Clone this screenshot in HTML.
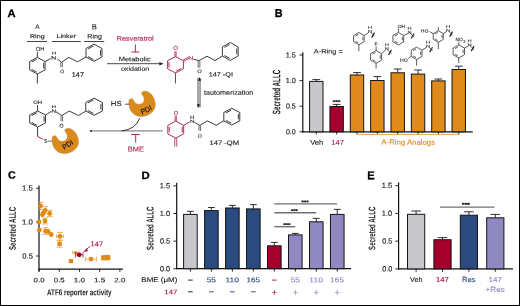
<!DOCTYPE html><html><head><meta charset="utf-8"><style>html,body{margin:0;padding:0;background:#fff;overflow:hidden;}svg{display:block;will-change:transform;}text{font-family:"Liberation Sans", sans-serif;}</style></head><body>
<svg width="520" height="306" viewBox="0 0 520 306">
<rect x="0" y="0" width="520" height="306" fill="#fff"/>
<rect x="0.5" y="0.5" width="519" height="305" fill="none" stroke="#000" stroke-width="1"/>
<text x="7.62" y="17.1" font-size="11.01" fill="#000" font-weight="bold" stroke="#000" stroke-width="0.3" textLength="8.08" lengthAdjust="spacingAndGlyphs" transform="rotate(0.06 7.62 17.1)">A</text>
<text x="274.8" y="17.1" font-size="11.59" fill="#000" font-weight="bold" stroke="#000" stroke-width="0.3" textLength="7.81" lengthAdjust="spacingAndGlyphs" transform="rotate(0.06 274.8 17.1)">B</text>
<text x="8.07" y="178.59" font-size="10.56" fill="#000" font-weight="bold" stroke="#000" stroke-width="0.3" textLength="7.72" lengthAdjust="spacingAndGlyphs" transform="rotate(0.06 8.07 178.59)">C</text>
<text x="141.56" y="179.1" font-size="10.58" fill="#000" font-weight="bold" stroke="#000" stroke-width="0.3" textLength="8.22" lengthAdjust="spacingAndGlyphs" transform="rotate(0.06 141.56 179.1)">D</text>
<text x="367.18" y="179.3" font-size="11.45" fill="#000" font-weight="bold" stroke="#000" stroke-width="0.3" textLength="7.44" lengthAdjust="spacingAndGlyphs" transform="rotate(0.06 367.18 179.3)">E</text>
<text x="35.18" y="28.69" font-size="6.2" fill="#1e1c1d" stroke="#1e1c1d" stroke-width="0.12" textLength="4.33" lengthAdjust="spacingAndGlyphs" transform="rotate(0.06 35.18 28.69)">A</text>
<text x="29.94" y="38.34" font-size="5.97" fill="#1e1c1d" stroke="#1e1c1d" stroke-width="0.12" textLength="14.73" lengthAdjust="spacingAndGlyphs" transform="rotate(0.06 29.94 38.34)">Ring</text>
<text x="56.53" y="38.03" font-size="5.82" fill="#1e1c1d" stroke="#1e1c1d" stroke-width="0.12" textLength="19.59" lengthAdjust="spacingAndGlyphs" transform="rotate(0.06 56.53 38.03)">Linker</text>
<text x="91.78" y="29.19" font-size="7.36" fill="#1e1c1d" stroke="#1e1c1d" stroke-width="0.12" textLength="5.21" lengthAdjust="spacingAndGlyphs" transform="rotate(0.06 91.78 29.19)">B</text>
<text x="87.34" y="38.6" font-size="6.61" fill="#1e1c1d" stroke="#1e1c1d" stroke-width="0.12" textLength="14.62" lengthAdjust="spacingAndGlyphs" transform="rotate(0.06 87.34 38.6)">Ring</text>
<line x1="26.9" y1="41.5" x2="46.9" y2="41.5" stroke="#444" stroke-width="1" />
<line x1="51.9" y1="41.5" x2="80.7" y2="41.5" stroke="#444" stroke-width="1" />
<line x1="84.2" y1="41.5" x2="104.2" y2="41.5" stroke="#444" stroke-width="1" />
<polygon points="37.35,57.4 45.1,61.55 45.1,69.85 37.35,74 29.6,69.85 29.6,61.55" fill="none" stroke="#262626" stroke-width="0.9" stroke-linejoin="round"/>
<line x1="43.71" y1="62.98" x2="43.71" y2="68.42" stroke="#262626" stroke-width="0.9" />
<line x1="36.71" y1="72.17" x2="31.63" y2="69.44" stroke="#262626" stroke-width="0.9" />
<line x1="31.63" y1="61.96" x2="36.71" y2="59.23" stroke="#262626" stroke-width="0.9" />
<line x1="37.35" y1="57.4" x2="37.35" y2="51.9" stroke="#262626" stroke-width="0.9" />
<text x="35.84" y="50.65" font-size="5.49" fill="#1e1c1d" stroke="#1e1c1d" stroke-width="0.1" textLength="8.62" lengthAdjust="spacingAndGlyphs" transform="rotate(0.06 35.84 50.65)">OH</text>
<line x1="37.35" y1="74" x2="37.35" y2="83.5" stroke="#262626" stroke-width="0.9" />
<line x1="45.1" y1="61.55" x2="50.6" y2="58.6" stroke="#262626" stroke-width="0.9" />
<text x="51.13" y="59.4" font-size="4.93" fill="#1e1c1d" stroke="#1e1c1d" stroke-width="0.1" textLength="5.16" lengthAdjust="spacingAndGlyphs" transform="rotate(0.06 51.13 59.4)">N</text>
<text x="51.93" y="54.4" font-size="4.06" fill="#1e1c1d" stroke="#1e1c1d" stroke-width="0.1" textLength="4.26" lengthAdjust="spacingAndGlyphs" transform="rotate(0.06 51.93 54.4)">H</text>
<line x1="57.2" y1="59" x2="61.6" y2="62.2" stroke="#262626" stroke-width="0.9" />
<line x1="60.8" y1="62.4" x2="60.8" y2="67.2" stroke="#3a3a3a" stroke-width="0.75" />
<line x1="62.4" y1="62.4" x2="62.4" y2="67.2" stroke="#3a3a3a" stroke-width="0.75" />
<text x="60.17" y="73.35" font-size="4.93" fill="#1e1c1d" stroke="#1e1c1d" stroke-width="0.1" textLength="3.97" lengthAdjust="spacingAndGlyphs" transform="rotate(0.06 60.17 73.35)">O</text>
<polyline points="61.6,62.2 68.8,57.4 77.5,61.8 86,57.03" fill="none" stroke="#262626" stroke-width="0.9" stroke-linejoin="round"/>
<polygon points="94,44.2 102,48.48 102,57.02 94,61.3 86,57.03 86,48.48" fill="none" stroke="#262626" stroke-width="0.9" stroke-linejoin="round"/>
<line x1="100.56" y1="49.95" x2="100.56" y2="55.55" stroke="#262626" stroke-width="0.9" />
<line x1="93.34" y1="59.41" x2="88.1" y2="56.61" stroke="#262626" stroke-width="0.9" />
<line x1="88.1" y1="48.89" x2="93.34" y2="46.09" stroke="#262626" stroke-width="0.9" />
<text x="71.76" y="76.99" font-size="6.78" fill="#1e1c1d" stroke="#1e1c1d" stroke-width="0.12" textLength="12.22" lengthAdjust="spacingAndGlyphs" transform="rotate(0.06 71.76 76.99)">147</text>
<text x="116.73" y="40.82" font-size="6.78" fill="#b8224f" stroke="#b8224f" stroke-width="0.12" textLength="36.95" lengthAdjust="spacingAndGlyphs" transform="rotate(0.06 116.73 40.82)">Resveratrol</text>
<line x1="135.4" y1="44.3" x2="135.4" y2="52" stroke="#aa1442" stroke-width="0.9" />
<line x1="131.4" y1="52" x2="139.3" y2="52" stroke="#aa1442" stroke-width="0.9" />
<text x="118.71" y="61.13" font-size="6.23" fill="#1e1c1d" stroke="#1e1c1d" stroke-width="0.12" textLength="31.96" lengthAdjust="spacingAndGlyphs" transform="rotate(0.06 118.71 61.13)">Metabolic</text>
<line x1="107" y1="63.7" x2="160.5" y2="63.7" stroke="#333" stroke-width="0.9" />
<polygon points="163.6,63.7 159.3,61.9 159.3,65.5" fill="#222"/>
<text x="120.93" y="70.83" font-size="5.82" fill="#1e1c1d" stroke="#1e1c1d" stroke-width="0.12" textLength="28.35" lengthAdjust="spacingAndGlyphs" transform="rotate(0.06 120.93 70.83)">oxidation</text>
<polygon points="175.5,56.6 183.4,60.67 183.4,68.83 175.5,72.9 167.6,68.83 167.6,60.67" fill="none" stroke="#aa1442" stroke-width="0.9" stroke-linejoin="round"/>
<line x1="181.33" y1="68.43" x2="176.15" y2="71.1" stroke="#aa1442" stroke-width="0.9" />
<line x1="169.02" y1="67.42" x2="169.02" y2="62.08" stroke="#aa1442" stroke-width="0.9" />
<text x="173.22" y="49.94" font-size="5.92" fill="#aa1442" stroke="#aa1442" stroke-width="0.1" textLength="4.77" lengthAdjust="spacingAndGlyphs" transform="rotate(0.06 173.22 49.94)">O</text>
<line x1="176.05" y1="56.6" x2="176.05" y2="51.2" stroke="#aa1442" stroke-width="0.8" />
<line x1="174.95" y1="56.6" x2="174.95" y2="51.2" stroke="#aa1442" stroke-width="0.8" />
<line x1="183.72" y1="61.27" x2="188.92" y2="58.37" stroke="#aa1442" stroke-width="0.8" />
<line x1="183.08" y1="60.13" x2="188.28" y2="57.23" stroke="#aa1442" stroke-width="0.8" />
<text x="188.34" y="59.7" font-size="5.07" fill="#aa1442" stroke="#aa1442" stroke-width="0.1" textLength="5.03" lengthAdjust="spacingAndGlyphs" transform="rotate(0.06 188.34 59.7)">N</text>
<line x1="175.5" y1="72.9" x2="175.5" y2="83.4" stroke="#aa1442" stroke-width="0.9" />
<line x1="193.4" y1="59.2" x2="199" y2="60.6" stroke="#262626" stroke-width="0.9" />
<line x1="198.15" y1="60.8" x2="198.15" y2="67.8" stroke="#3a3a3a" stroke-width="0.75" />
<line x1="199.85" y1="60.8" x2="199.85" y2="67.8" stroke="#3a3a3a" stroke-width="0.75" />
<text x="197.24" y="73.05" font-size="5.07" fill="#1e1c1d" stroke="#1e1c1d" stroke-width="0.1" textLength="4.54" lengthAdjust="spacingAndGlyphs" transform="rotate(0.06 197.24 73.05)">O</text>
<polyline points="199,60.6 207,56.2 215,60.6 222.4,55.9" fill="none" stroke="#262626" stroke-width="0.9" stroke-linejoin="round"/>
<polygon points="230.3,42.5 238.2,46.98 238.2,55.92 230.3,60.4 222.4,55.93 222.4,46.98" fill="none" stroke="#262626" stroke-width="0.9" stroke-linejoin="round"/>
<line x1="236.78" y1="48.51" x2="236.78" y2="54.39" stroke="#262626" stroke-width="0.9" />
<line x1="229.65" y1="58.42" x2="224.47" y2="55.49" stroke="#262626" stroke-width="0.9" />
<line x1="224.47" y1="47.41" x2="229.65" y2="44.48" stroke="#262626" stroke-width="0.9" />
<text x="208.66" y="76.39" font-size="6.06" fill="#1e1c1d" stroke="#1e1c1d" stroke-width="0.12" textLength="24.32" lengthAdjust="spacingAndGlyphs" transform="rotate(0.06 208.66 76.39)">147 -QI</text>
<rect x="197.6" y="78.5" width="3" height="28.5" fill="#a8a8a8" stroke="#7a7a7a" stroke-width="0.5"/>
<polygon points="199.6,77.1 197.9,80.8 201.1,80.8" fill="#1a1a1a"/>
<polygon points="198.3,107.8 196.8,104.3 199.9,104.3" fill="#1a1a1a"/>
<text x="204.1" y="94.72" font-size="6.64" fill="#1e1c1d" stroke="#1e1c1d" stroke-width="0.12" textLength="49.27" lengthAdjust="spacingAndGlyphs" transform="rotate(0.06 204.1 94.72)">tautomerization</text>
<polygon points="175.75,121.1 183.7,125.35 183.7,133.85 175.75,138.1 167.8,133.85 167.8,125.35" fill="none" stroke="#aa1442" stroke-width="0.9" stroke-linejoin="round"/>
<line x1="182.27" y1="126.81" x2="182.27" y2="132.39" stroke="#aa1442" stroke-width="0.9" />
<line x1="169.23" y1="132.39" x2="169.23" y2="126.81" stroke="#aa1442" stroke-width="0.9" />
<text x="173.74" y="115.04" font-size="5.92" fill="#aa1442" stroke="#aa1442" stroke-width="0.1" textLength="4.43" lengthAdjust="spacingAndGlyphs" transform="rotate(0.06 173.74 115.04)">O</text>
<line x1="176.3" y1="121.1" x2="176.3" y2="115.8" stroke="#aa1442" stroke-width="0.8" />
<line x1="175.2" y1="121.1" x2="175.2" y2="115.8" stroke="#aa1442" stroke-width="0.8" />
<line x1="174.75" y1="138.1" x2="174.75" y2="146.6" stroke="#aa1442" stroke-width="0.8" />
<line x1="176.75" y1="138.1" x2="176.75" y2="146.6" stroke="#aa1442" stroke-width="0.8" />
<line x1="183.7" y1="125.35" x2="189.8" y2="121.8" stroke="#aa1442" stroke-width="0.9" />
<text x="190.1" y="122.8" font-size="4.35" fill="#1e1c1d" stroke="#1e1c1d" stroke-width="0.1" textLength="4.51" lengthAdjust="spacingAndGlyphs" transform="rotate(0.06 190.1 122.8)">N</text>
<text x="190.1" y="118.7" font-size="4.49" fill="#1e1c1d" stroke="#1e1c1d" stroke-width="0.1" textLength="4.51" lengthAdjust="spacingAndGlyphs" transform="rotate(0.06 190.1 118.7)">H</text>
<line x1="194.4" y1="122.3" x2="199.8" y2="125.4" stroke="#262626" stroke-width="0.9" />
<line x1="199" y1="125.5" x2="199" y2="130.8" stroke="#3a3a3a" stroke-width="0.75" />
<line x1="200.6" y1="125.5" x2="200.6" y2="130.8" stroke="#3a3a3a" stroke-width="0.75" />
<text x="197.66" y="137.75" font-size="5.07" fill="#1e1c1d" stroke="#1e1c1d" stroke-width="0.1" textLength="4.09" lengthAdjust="spacingAndGlyphs" transform="rotate(0.06 197.66 137.75)">O</text>
<polyline points="199.8,125.4 207.3,120.9 216.2,125.3 223.8,120.8" fill="none" stroke="#262626" stroke-width="0.9" stroke-linejoin="round"/>
<polygon points="231.8,108.3 239.8,112.48 239.8,120.83 231.8,125 223.8,120.83 223.8,112.48" fill="none" stroke="#262626" stroke-width="0.9" stroke-linejoin="round"/>
<line x1="238.36" y1="113.91" x2="238.36" y2="119.39" stroke="#262626" stroke-width="0.9" />
<line x1="231.14" y1="123.15" x2="225.9" y2="120.42" stroke="#262626" stroke-width="0.9" />
<line x1="225.9" y1="112.88" x2="231.14" y2="110.15" stroke="#262626" stroke-width="0.9" />
<text x="209.44" y="144.99" font-size="6.49" fill="#1e1c1d" stroke="#1e1c1d" stroke-width="0.12" textLength="29.6" lengthAdjust="spacingAndGlyphs" transform="rotate(0.06 209.44 144.99)">147 -QM</text>
<polygon points="37.6,111 45.5,115 45.5,123 37.6,127 29.7,123 29.7,115" fill="none" stroke="#262626" stroke-width="0.9" stroke-linejoin="round"/>
<line x1="44.08" y1="116.38" x2="44.08" y2="121.62" stroke="#262626" stroke-width="0.9" />
<line x1="36.95" y1="125.23" x2="31.77" y2="122.61" stroke="#262626" stroke-width="0.9" />
<line x1="31.77" y1="115.39" x2="36.95" y2="112.77" stroke="#262626" stroke-width="0.9" />
<line x1="37.6" y1="111" x2="37.6" y2="105.2" stroke="#262626" stroke-width="0.9" />
<text x="33.23" y="103.95" font-size="5.07" fill="#1e1c1d" stroke="#1e1c1d" stroke-width="0.1" textLength="8.84" lengthAdjust="spacingAndGlyphs" transform="rotate(0.06 33.23 103.95)">OH</text>
<line x1="37.6" y1="127" x2="37.6" y2="136.5" stroke="#262626" stroke-width="0.9" />
<line x1="37.6" y1="136.5" x2="43.2" y2="139.2" stroke="#aa1442" stroke-width="0.9" />
<text x="44.07" y="143.14" font-size="5.63" fill="#1e1c1d" stroke="#1e1c1d" stroke-width="0.1" textLength="3.36" lengthAdjust="spacingAndGlyphs" transform="rotate(0.06 44.07 143.14)">S</text>
<line x1="47.6" y1="141.2" x2="52.6" y2="141.2" stroke="#555" stroke-width="0.9" />
<line x1="45.5" y1="115" x2="51.6" y2="111.3" stroke="#262626" stroke-width="0.9" />
<text x="51.6" y="112.8" font-size="5.07" fill="#1e1c1d" stroke="#1e1c1d" stroke-width="0.1" textLength="4.51" lengthAdjust="spacingAndGlyphs" transform="rotate(0.06 51.6 112.8)">N</text>
<text x="51.6" y="107.9" font-size="3.62" fill="#1e1c1d" stroke="#1e1c1d" stroke-width="0.1" textLength="4.51" lengthAdjust="spacingAndGlyphs" transform="rotate(0.06 51.6 107.9)">H</text>
<line x1="55.8" y1="111.6" x2="61.8" y2="115.5" stroke="#262626" stroke-width="0.9" />
<line x1="61" y1="115.7" x2="61" y2="121.4" stroke="#3a3a3a" stroke-width="0.75" />
<line x1="62.6" y1="115.7" x2="62.6" y2="121.4" stroke="#3a3a3a" stroke-width="0.75" />
<text x="59.57" y="127.45" font-size="5.21" fill="#1e1c1d" stroke="#1e1c1d" stroke-width="0.1" textLength="3.97" lengthAdjust="spacingAndGlyphs" transform="rotate(0.06 59.57 127.45)">O</text>
<polyline points="61.8,115.5 69.3,111 78.5,115.6 85.8,111" fill="none" stroke="#262626" stroke-width="0.9" stroke-linejoin="round"/>
<polygon points="94.1,98.2 102.4,102.47 102.4,111.03 94.1,115.3 85.8,111.03 85.8,102.47" fill="none" stroke="#262626" stroke-width="0.9" stroke-linejoin="round"/>
<line x1="100.91" y1="103.95" x2="100.91" y2="109.55" stroke="#262626" stroke-width="0.9" />
<line x1="93.42" y1="113.41" x2="87.97" y2="110.61" stroke="#262626" stroke-width="0.9" />
<line x1="87.97" y1="102.89" x2="93.42" y2="100.09" stroke="#262626" stroke-width="0.9" />
<path transform="translate(0,0)" d="M 54.2 135.8 C 52.2 135.9 51.9 138.5 52.2 141.5 C 52.8 149 58.5 153.6 64.3 153.5 C 72.3 153.3 78.8 148 78.5 141.5 C 78.2 134.5 73.5 128.7 68.5 128.4 C 65.8 128.2 64.2 129.8 65.2 131.5 C 67.5 134 68.5 137.5 66 140 C 64.5 141.5 61.5 142 59.5 140.8 C 57.8 139.8 57 138 56.4 136.8 C 55.8 135.9 55.2 135.7 54.2 135.8 Z" fill="#d98a1d" stroke="#c97f16" stroke-width="0.5"/>
<text x="0" y="2.7" font-size="7.3" fill="#111" stroke="#111" stroke-width="0.12" text-anchor="middle" textLength="11.6" lengthAdjust="spacingAndGlyphs" transform="translate(67.6,144.6) rotate(-33)">PDI</text>
<path transform="translate(76.8,-37.1)" d="M 54.2 135.8 C 52.2 135.9 51.9 138.5 52.2 141.5 C 52.8 149 58.5 153.6 64.3 153.5 C 72.3 153.3 78.8 148 78.5 141.5 C 78.2 134.5 73.5 128.7 68.5 128.4 C 65.8 128.2 64.2 129.8 65.2 131.5 C 67.5 134 68.5 137.5 66 140 C 64.5 141.5 61.5 142 59.5 140.8 C 57.8 139.8 57 138 56.4 136.8 C 55.8 135.9 55.2 135.7 54.2 135.8 Z" fill="#d98a1d" stroke="#c97f16" stroke-width="0.5"/>
<text x="0" y="2.7" font-size="7.3" fill="#111" stroke="#111" stroke-width="0.12" text-anchor="middle" textLength="11.6" lengthAdjust="spacingAndGlyphs" transform="translate(146.1,109.7) rotate(-27)">PDI</text>
<text x="110.79" y="106.02" font-size="7.3" fill="#1e1c1d" stroke="#1e1c1d" stroke-width="0.12" textLength="10.78" lengthAdjust="spacingAndGlyphs" transform="rotate(0.06 110.79 106.02)">HS</text>
<line x1="124.8" y1="104.2" x2="129.2" y2="104.2" stroke="#444" stroke-width="0.9" />
<line x1="90.5" y1="130.9" x2="162.7" y2="130.9" stroke="#8a8a8a" stroke-width="1.3" />
<polygon points="89.2,130.9 91.9,129.7 91.9,132.1" fill="#1a1a1a"/>
<path d="M 139.7 118.2 Q 135.5 129.5 121.5 130.9" fill="none" stroke="#222" stroke-width="0.9"/>
<line x1="131.3" y1="134.5" x2="139.9" y2="134.5" stroke="#aa1442" stroke-width="0.9" />
<line x1="135.7" y1="134.5" x2="135.7" y2="142.7" stroke="#aa1442" stroke-width="0.9" />
<text x="127.71" y="151.49" font-size="7.07" fill="#b8224f" stroke="#b8224f" stroke-width="0.12" textLength="16.19" lengthAdjust="spacingAndGlyphs" transform="rotate(0.06 127.71 151.49)">BME</text>
<line x1="302.8" y1="52.3" x2="302.8" y2="132.4" stroke="#111" stroke-width="1.2" />
<line x1="302.2" y1="131.8" x2="472.8" y2="131.8" stroke="#111" stroke-width="1.2" />
<line x1="299.5" y1="55" x2="302.8" y2="55" stroke="#111" stroke-width="0.9" />
<text x="285.68" y="57.4" font-size="7.36" fill="#1e1c1d" stroke="#1e1c1d" stroke-width="0.15" textLength="10.09" lengthAdjust="spacingAndGlyphs" transform="rotate(0.06 285.68 57.4)">1.5</text>
<line x1="299.5" y1="80.6" x2="302.8" y2="80.6" stroke="#111" stroke-width="0.9" />
<text x="285.68" y="83" font-size="7.25" fill="#1e1c1d" stroke="#1e1c1d" stroke-width="0.15" textLength="10.09" lengthAdjust="spacingAndGlyphs" transform="rotate(0.06 285.68 83)">1.0</text>
<line x1="299.5" y1="106.2" x2="302.8" y2="106.2" stroke="#111" stroke-width="0.9" />
<text x="285.94" y="108.6" font-size="7.25" fill="#1e1c1d" stroke="#1e1c1d" stroke-width="0.15" textLength="9.82" lengthAdjust="spacingAndGlyphs" transform="rotate(0.06 285.94 108.6)">0.5</text>
<line x1="299.5" y1="131.8" x2="302.8" y2="131.8" stroke="#111" stroke-width="0.9" />
<text x="285.94" y="134.2" font-size="7.25" fill="#1e1c1d" stroke="#1e1c1d" stroke-width="0.15" textLength="9.82" lengthAdjust="spacingAndGlyphs" transform="rotate(0.06 285.94 134.2)">0.0</text>
<line x1="316.3" y1="81.4" x2="316.3" y2="79.6" stroke="#1a1a1a" stroke-width="0.9" />
<line x1="312.4" y1="79.6" x2="320.2" y2="79.6" stroke="#1a1a1a" stroke-width="0.9" />
<rect x="309.6" y="81.4" width="13.4" height="50.4" fill="#c8c7cc" stroke="#151515" stroke-width="1"/>
<line x1="316.3" y1="131.8" x2="316.3" y2="134.4" stroke="#111" stroke-width="0.9" />
<line x1="336.65" y1="106.5" x2="336.65" y2="104.4" stroke="#1a1a1a" stroke-width="0.9" />
<line x1="332.75" y1="104.4" x2="340.55" y2="104.4" stroke="#1a1a1a" stroke-width="0.9" />
<rect x="329.95" y="106.5" width="13.4" height="25.3" fill="#a5002d" stroke="#151515" stroke-width="1"/>
<line x1="336.65" y1="131.8" x2="336.65" y2="134.4" stroke="#111" stroke-width="0.9" />
<line x1="357" y1="75" x2="357" y2="72.6" stroke="#1a1a1a" stroke-width="0.9" />
<line x1="353.1" y1="72.6" x2="360.9" y2="72.6" stroke="#1a1a1a" stroke-width="0.9" />
<rect x="350.3" y="75" width="13.4" height="56.8" fill="#de8b1b" stroke="#151515" stroke-width="1"/>
<line x1="357" y1="131.8" x2="357" y2="134.4" stroke="#111" stroke-width="0.9" />
<line x1="377.35" y1="80.5" x2="377.35" y2="76.6" stroke="#1a1a1a" stroke-width="0.9" />
<line x1="373.45" y1="76.6" x2="381.25" y2="76.6" stroke="#1a1a1a" stroke-width="0.9" />
<rect x="370.65" y="80.5" width="13.4" height="51.3" fill="#de8b1b" stroke="#151515" stroke-width="1"/>
<line x1="377.35" y1="131.8" x2="377.35" y2="134.4" stroke="#111" stroke-width="0.9" />
<line x1="397.7" y1="72.8" x2="397.7" y2="69" stroke="#1a1a1a" stroke-width="0.9" />
<line x1="393.8" y1="69" x2="401.6" y2="69" stroke="#1a1a1a" stroke-width="0.9" />
<rect x="391" y="72.8" width="13.4" height="59" fill="#de8b1b" stroke="#151515" stroke-width="1"/>
<line x1="397.7" y1="131.8" x2="397.7" y2="134.4" stroke="#111" stroke-width="0.9" />
<line x1="418.05" y1="74.1" x2="418.05" y2="70" stroke="#1a1a1a" stroke-width="0.9" />
<line x1="414.15" y1="70" x2="421.95" y2="70" stroke="#1a1a1a" stroke-width="0.9" />
<rect x="411.35" y="74.1" width="13.4" height="57.7" fill="#de8b1b" stroke="#151515" stroke-width="1"/>
<line x1="418.05" y1="131.8" x2="418.05" y2="134.4" stroke="#111" stroke-width="0.9" />
<line x1="438.4" y1="80.9" x2="438.4" y2="79" stroke="#1a1a1a" stroke-width="0.9" />
<line x1="434.5" y1="79" x2="442.3" y2="79" stroke="#1a1a1a" stroke-width="0.9" />
<rect x="431.7" y="80.9" width="13.4" height="50.9" fill="#de8b1b" stroke="#151515" stroke-width="1"/>
<line x1="438.4" y1="131.8" x2="438.4" y2="134.4" stroke="#111" stroke-width="0.9" />
<line x1="458.75" y1="69.5" x2="458.75" y2="66.2" stroke="#1a1a1a" stroke-width="0.9" />
<line x1="454.85" y1="66.2" x2="462.65" y2="66.2" stroke="#1a1a1a" stroke-width="0.9" />
<rect x="452.05" y="69.5" width="13.4" height="62.3" fill="#de8b1b" stroke="#151515" stroke-width="1"/>
<line x1="458.75" y1="131.8" x2="458.75" y2="134.4" stroke="#111" stroke-width="0.9" />
<text x="332.77" y="103.57" font-size="4.59" fill="#1e1c1d" font-weight="bold" stroke="#1e1c1d" stroke-width="0.3" textLength="7.65" lengthAdjust="spacingAndGlyphs" transform="rotate(0.06 332.77 103.57)">***</text>
<text x="310.17" y="144.72" font-size="6.78" fill="#1e1c1d" stroke="#1e1c1d" stroke-width="0.12" textLength="13.11" lengthAdjust="spacingAndGlyphs" transform="rotate(0.06 310.17 144.72)">Veh</text>
<text x="331.24" y="144.79" font-size="6.93" fill="#aa1442" stroke="#aa1442" stroke-width="0.12" textLength="12.65" lengthAdjust="spacingAndGlyphs" transform="rotate(0.06 331.24 144.79)">147</text>
<line x1="356.6" y1="134.4" x2="459.5" y2="134.4" stroke="#e8a54c" stroke-width="1" />
<text x="381.37" y="144.62" font-size="7.47" fill="#de8b1b" stroke="#de8b1b" stroke-width="0.12" textLength="53.68" lengthAdjust="spacingAndGlyphs" transform="rotate(0.06 381.37 144.62)">A-Ring Analogs</text>
<text x="313.87" y="53.62" font-size="6.5" fill="#1e1c1d" stroke="#1e1c1d" stroke-width="0.12" textLength="28.87" lengthAdjust="spacingAndGlyphs" transform="rotate(0.06 313.87 53.62)">A-Ring =</text>
<g transform="rotate(-90)"><text x="-114.24" y="280.14" font-size="10.88" fill="#1e1c1d" font-weight="bold" textLength="44.45" lengthAdjust="spacingAndGlyphs" transform="rotate(0.06 -114.24 280.14)">Secreted ALLC</text></g>
<polygon points="358.9,32.5 364.18,35.55 364.18,41.65 358.9,44.7 353.62,41.65 353.62,35.55" fill="none" stroke="#262626" stroke-width="0.75" stroke-linejoin="round"/>
<line x1="362.86" y1="37" x2="362.86" y2="40.2" stroke="#262626" stroke-width="0.75" />
<line x1="358.31" y1="42.83" x2="355.53" y2="41.23" stroke="#262626" stroke-width="0.75" />
<line x1="355.53" y1="35.97" x2="358.31" y2="34.37" stroke="#262626" stroke-width="0.75" />
<line x1="358.9" y1="44.7" x2="358.9" y2="51.2" stroke="#262626" stroke-width="0.75" />
<line x1="364.2" y1="35.5" x2="368.4" y2="32.7" stroke="#262626" stroke-width="0.75" />
<text x="367.94" y="33" font-size="4.35" fill="#1e1c1d" stroke="#1e1c1d" stroke-width="0.1" textLength="4.13" lengthAdjust="spacingAndGlyphs" transform="rotate(0.06 367.94 33)">N</text>
<text x="367.94" y="28.7" font-size="3.77" fill="#1e1c1d" stroke="#1e1c1d" stroke-width="0.1" textLength="4.13" lengthAdjust="spacingAndGlyphs" transform="rotate(0.06 367.94 28.7)">H</text>
<line x1="371.5" y1="33" x2="374.6" y2="36.3" stroke="#262626" stroke-width="0.75" />
<line x1="371.65" y1="37.6" x2="374.55" y2="32.6" stroke="#262626" stroke-width="1.25" />
<polygon points="376.1,50.5 381.64,53.7 381.64,60.1 376.1,63.3 370.56,60.1 370.56,53.7" fill="none" stroke="#262626" stroke-width="0.75" stroke-linejoin="round"/>
<line x1="380.26" y1="55.22" x2="380.26" y2="58.58" stroke="#262626" stroke-width="0.75" />
<line x1="375.48" y1="61.34" x2="372.57" y2="59.66" stroke="#262626" stroke-width="0.75" />
<line x1="372.57" y1="54.14" x2="375.48" y2="52.46" stroke="#262626" stroke-width="0.75" />
<line x1="376.1" y1="50.5" x2="376.1" y2="46.3" stroke="#262626" stroke-width="0.75" />
<text x="374.59" y="45.45" font-size="4.78" fill="#1e1c1d" stroke="#1e1c1d" stroke-width="0.1" textLength="3.03" lengthAdjust="spacingAndGlyphs" transform="rotate(0.06 374.59 45.45)">F</text>
<line x1="376.1" y1="63.3" x2="376.1" y2="68.6" stroke="#262626" stroke-width="0.75" />
<line x1="381.6" y1="53.7" x2="385.3" y2="50.05" stroke="#262626" stroke-width="0.75" />
<text x="384.84" y="50.35" font-size="4.35" fill="#1e1c1d" stroke="#1e1c1d" stroke-width="0.1" textLength="4.13" lengthAdjust="spacingAndGlyphs" transform="rotate(0.06 384.84 50.35)">N</text>
<text x="384.84" y="46.05" font-size="3.77" fill="#1e1c1d" stroke="#1e1c1d" stroke-width="0.1" textLength="4.13" lengthAdjust="spacingAndGlyphs" transform="rotate(0.06 384.84 46.05)">H</text>
<line x1="388.4" y1="50.35" x2="391.5" y2="53.65" stroke="#262626" stroke-width="0.75" />
<line x1="388.55" y1="54.95" x2="391.45" y2="49.95" stroke="#262626" stroke-width="1.25" />
<polygon points="398.3,32.5 403.67,35.6 403.67,41.8 398.3,44.9 392.93,41.8 392.93,35.6" fill="none" stroke="#262626" stroke-width="0.75" stroke-linejoin="round"/>
<line x1="402.33" y1="37.07" x2="402.33" y2="40.33" stroke="#262626" stroke-width="0.75" />
<line x1="397.7" y1="43" x2="394.88" y2="41.37" stroke="#262626" stroke-width="0.75" />
<line x1="394.88" y1="36.03" x2="397.7" y2="34.4" stroke="#262626" stroke-width="0.75" />
<line x1="398.4" y1="32.5" x2="398.4" y2="28.6" stroke="#262626" stroke-width="0.75" />
<text x="397.68" y="28" font-size="4.65" fill="#1e1c1d" stroke="#1e1c1d" stroke-width="0.1" textLength="7.62" lengthAdjust="spacingAndGlyphs" transform="rotate(0.06 397.68 28)">OH</text>
<line x1="403.7" y1="35.4" x2="407.9" y2="33.6" stroke="#262626" stroke-width="0.75" />
<text x="407.44" y="33.9" font-size="4.35" fill="#1e1c1d" stroke="#1e1c1d" stroke-width="0.1" textLength="4.13" lengthAdjust="spacingAndGlyphs" transform="rotate(0.06 407.44 33.9)">N</text>
<text x="407.44" y="29.6" font-size="3.77" fill="#1e1c1d" stroke="#1e1c1d" stroke-width="0.1" textLength="4.13" lengthAdjust="spacingAndGlyphs" transform="rotate(0.06 407.44 29.6)">H</text>
<line x1="411" y1="33.9" x2="414.1" y2="37.2" stroke="#262626" stroke-width="0.75" />
<line x1="411.15" y1="38.5" x2="414.05" y2="33.5" stroke="#262626" stroke-width="1.25" />
<polygon points="416.6,47.1 421.97,50.2 421.97,56.4 416.6,59.5 411.23,56.4 411.23,50.2" fill="none" stroke="#262626" stroke-width="0.75" stroke-linejoin="round"/>
<line x1="420.63" y1="51.67" x2="420.63" y2="54.93" stroke="#262626" stroke-width="0.75" />
<line x1="416" y1="57.6" x2="413.18" y2="55.97" stroke="#262626" stroke-width="0.75" />
<line x1="413.18" y1="50.63" x2="416" y2="49" stroke="#262626" stroke-width="0.75" />
<line x1="411.2" y1="56.4" x2="408.2" y2="58.6" stroke="#262626" stroke-width="0.75" />
<text x="400.12" y="61.8" font-size="4.65" fill="#1e1c1d" stroke="#1e1c1d" stroke-width="0.1" textLength="7.62" lengthAdjust="spacingAndGlyphs" transform="rotate(0.06 400.12 61.8)">HO</text>
<line x1="416.6" y1="59.5" x2="416.6" y2="65.7" stroke="#262626" stroke-width="0.75" />
<line x1="422" y1="50.2" x2="426.4" y2="47.4" stroke="#262626" stroke-width="0.75" />
<text x="425.94" y="47.7" font-size="4.35" fill="#1e1c1d" stroke="#1e1c1d" stroke-width="0.1" textLength="4.13" lengthAdjust="spacingAndGlyphs" transform="rotate(0.06 425.94 47.7)">N</text>
<text x="425.94" y="43.4" font-size="3.77" fill="#1e1c1d" stroke="#1e1c1d" stroke-width="0.1" textLength="4.13" lengthAdjust="spacingAndGlyphs" transform="rotate(0.06 425.94 43.4)">H</text>
<line x1="429.5" y1="47.7" x2="432.6" y2="51" stroke="#262626" stroke-width="0.75" />
<line x1="429.65" y1="52.3" x2="432.55" y2="47.3" stroke="#262626" stroke-width="1.25" />
<polygon points="438.3,30.7 443.32,33.6 443.32,39.4 438.3,42.3 433.28,39.4 433.28,33.6" fill="none" stroke="#262626" stroke-width="0.75" stroke-linejoin="round"/>
<line x1="442.07" y1="34.98" x2="442.07" y2="38.02" stroke="#262626" stroke-width="0.75" />
<line x1="437.73" y1="40.52" x2="435.1" y2="39" stroke="#262626" stroke-width="0.75" />
<line x1="435.1" y1="34" x2="437.73" y2="32.48" stroke="#262626" stroke-width="0.75" />
<line x1="433.3" y1="33.6" x2="429.6" y2="31.6" stroke="#262626" stroke-width="0.75" />
<text x="420.82" y="32.6" font-size="4.65" fill="#1e1c1d" stroke="#1e1c1d" stroke-width="0.1" textLength="7.62" lengthAdjust="spacingAndGlyphs" transform="rotate(0.06 420.82 32.6)">HO</text>
<line x1="438.3" y1="30.7" x2="438.3" y2="27.2" stroke="#262626" stroke-width="0.75" />
<line x1="438.3" y1="42.3" x2="438.3" y2="49.3" stroke="#262626" stroke-width="0.75" />
<line x1="443.3" y1="33.6" x2="446.4" y2="31.7" stroke="#262626" stroke-width="0.75" />
<text x="445.94" y="32" font-size="4.35" fill="#1e1c1d" stroke="#1e1c1d" stroke-width="0.1" textLength="4.13" lengthAdjust="spacingAndGlyphs" transform="rotate(0.06 445.94 32)">N</text>
<text x="445.94" y="27.7" font-size="3.77" fill="#1e1c1d" stroke="#1e1c1d" stroke-width="0.1" textLength="4.13" lengthAdjust="spacingAndGlyphs" transform="rotate(0.06 445.94 27.7)">H</text>
<line x1="449.5" y1="32" x2="452.6" y2="35.3" stroke="#262626" stroke-width="0.75" />
<line x1="449.65" y1="36.6" x2="452.55" y2="31.6" stroke="#262626" stroke-width="1.25" />
<polygon points="458.8,44.8 464.52,48.1 464.52,54.7 458.8,58 453.08,54.7 453.08,48.1" fill="none" stroke="#262626" stroke-width="0.75" stroke-linejoin="round"/>
<line x1="463.09" y1="49.67" x2="463.09" y2="53.13" stroke="#262626" stroke-width="0.75" />
<line x1="458.16" y1="55.98" x2="455.16" y2="54.25" stroke="#262626" stroke-width="0.75" />
<line x1="455.16" y1="48.55" x2="458.16" y2="46.82" stroke="#262626" stroke-width="0.75" />
<line x1="458.8" y1="44.8" x2="458.8" y2="42.4" stroke="#262626" stroke-width="0.75" />
<text x="455.51" y="41.3" font-size="4.93" fill="#1e1c1d" stroke="#1e1c1d" stroke-width="0.1" textLength="7.43" lengthAdjust="spacingAndGlyphs" transform="rotate(0.06 455.51 41.3)">NO</text>
<text x="463.21" y="42.9" font-size="3.71" fill="#1e1c1d" stroke="#1e1c1d" stroke-width="0.1" textLength="2.19" lengthAdjust="spacingAndGlyphs" transform="rotate(0.06 463.21 42.9)">2</text>
<line x1="458.8" y1="58" x2="458.8" y2="63" stroke="#262626" stroke-width="0.75" />
<line x1="464.5" y1="48.1" x2="467.9" y2="46.2" stroke="#262626" stroke-width="0.75" />
<text x="467.44" y="46.5" font-size="4.35" fill="#1e1c1d" stroke="#1e1c1d" stroke-width="0.1" textLength="4.13" lengthAdjust="spacingAndGlyphs" transform="rotate(0.06 467.44 46.5)">N</text>
<text x="467.44" y="42.2" font-size="3.77" fill="#1e1c1d" stroke="#1e1c1d" stroke-width="0.1" textLength="4.13" lengthAdjust="spacingAndGlyphs" transform="rotate(0.06 467.44 42.2)">H</text>
<line x1="471" y1="46.5" x2="474.1" y2="49.8" stroke="#262626" stroke-width="0.75" />
<line x1="471.15" y1="51.1" x2="474.05" y2="46.1" stroke="#262626" stroke-width="1.25" />
<line x1="39" y1="185.5" x2="39" y2="271.6" stroke="#3c4048" stroke-width="1.5" />
<line x1="38.3" y1="269.2" x2="122.9" y2="269.2" stroke="#111" stroke-width="1.2" />
<line x1="36.1" y1="188.2" x2="39" y2="188.2" stroke="#111" stroke-width="0.9" />
<text x="22.04" y="190.6" font-size="7.36" fill="#1e1c1d" stroke="#1e1c1d" stroke-width="0.15" textLength="10.85" lengthAdjust="spacingAndGlyphs" transform="rotate(0.06 22.04 190.6)">1.5</text>
<line x1="36.1" y1="222.1" x2="39" y2="222.1" stroke="#111" stroke-width="0.9" />
<text x="22.04" y="224.5" font-size="7.25" fill="#1e1c1d" stroke="#1e1c1d" stroke-width="0.15" textLength="10.85" lengthAdjust="spacingAndGlyphs" transform="rotate(0.06 22.04 224.5)">1.0</text>
<line x1="36.1" y1="256" x2="39" y2="256" stroke="#111" stroke-width="0.9" />
<text x="22.32" y="258.4" font-size="7.25" fill="#1e1c1d" stroke="#1e1c1d" stroke-width="0.15" textLength="10.56" lengthAdjust="spacingAndGlyphs" transform="rotate(0.06 22.32 258.4)">0.5</text>
<line x1="39.1" y1="269.2" x2="39.1" y2="271.8" stroke="#111" stroke-width="0.9" />
<text x="33.61" y="282.21" font-size="6.27" fill="#1e1c1d" stroke="#1e1c1d" stroke-width="0.15" textLength="10.98" lengthAdjust="spacingAndGlyphs" transform="rotate(0.06 33.61 282.21)">0.0</text>
<line x1="59.3" y1="269.2" x2="59.3" y2="271.8" stroke="#111" stroke-width="0.9" />
<text x="53.81" y="282.21" font-size="6.27" fill="#1e1c1d" stroke="#1e1c1d" stroke-width="0.15" textLength="10.98" lengthAdjust="spacingAndGlyphs" transform="rotate(0.06 53.81 282.21)">0.5</text>
<line x1="79.5" y1="269.2" x2="79.5" y2="271.8" stroke="#111" stroke-width="0.9" />
<text x="73.72" y="282.21" font-size="6.27" fill="#1e1c1d" stroke="#1e1c1d" stroke-width="0.15" textLength="11.28" lengthAdjust="spacingAndGlyphs" transform="rotate(0.06 73.72 282.21)">1.0</text>
<line x1="99.7" y1="269.2" x2="99.7" y2="271.8" stroke="#111" stroke-width="0.9" />
<text x="93.92" y="282.21" font-size="6.36" fill="#1e1c1d" stroke="#1e1c1d" stroke-width="0.15" textLength="11.28" lengthAdjust="spacingAndGlyphs" transform="rotate(0.06 93.92 282.21)">1.5</text>
<line x1="119.9" y1="269.2" x2="119.9" y2="271.8" stroke="#111" stroke-width="0.9" />
<text x="114.33" y="282.21" font-size="6.27" fill="#1e1c1d" stroke="#1e1c1d" stroke-width="0.15" textLength="11.07" lengthAdjust="spacingAndGlyphs" transform="rotate(0.06 114.33 282.21)">2.0</text>
<text x="46.99" y="295.25" font-size="8.55" fill="#1e1c1d" font-weight="bold" textLength="64.5" lengthAdjust="spacingAndGlyphs" transform="rotate(0.06 46.99 295.25)">ATF6 reporter activity</text>
<g transform="rotate(-90)"><text x="-249.93" y="15.65" font-size="9.52" fill="#1e1c1d" font-weight="bold" textLength="43.04" lengthAdjust="spacingAndGlyphs" transform="rotate(0.06 -249.93 15.65)">Secreted ALLC</text></g>
<line x1="40.6" y1="202.2" x2="40.6" y2="209.4" stroke="#eaa448" stroke-width="0.8" />
<line x1="37.6" y1="202.2" x2="43.6" y2="202.2" stroke="#eaa448" stroke-width="0.85" />
<line x1="37.6" y1="209.4" x2="43.6" y2="209.4" stroke="#eaa448" stroke-width="0.85" />
<circle cx="40.6" cy="205.8" r="2.4" fill="#e08a14"/>
<line x1="45.2" y1="206.7" x2="45.2" y2="213.9" stroke="#eaa448" stroke-width="0.8" />
<line x1="42.2" y1="206.7" x2="48.2" y2="206.7" stroke="#eaa448" stroke-width="0.85" />
<line x1="42.2" y1="213.9" x2="48.2" y2="213.9" stroke="#eaa448" stroke-width="0.85" />
<circle cx="45.2" cy="210.3" r="2.4" fill="#e08a14"/>
<circle cx="43.2" cy="213.1" r="2.4" fill="#e08a14"/>
<line x1="49.7" y1="210.3" x2="49.7" y2="216.7" stroke="#eaa448" stroke-width="0.8" />
<line x1="46.7" y1="210.3" x2="52.7" y2="210.3" stroke="#eaa448" stroke-width="0.85" />
<line x1="46.7" y1="216.7" x2="52.7" y2="216.7" stroke="#eaa448" stroke-width="0.85" />
<circle cx="49.7" cy="213.5" r="2.4" fill="#e08a14"/>
<circle cx="42.4" cy="214.7" r="2.4" fill="#e08a14"/>
<line x1="45" y1="218" x2="45" y2="224" stroke="#eaa448" stroke-width="0.8" />
<line x1="42" y1="218" x2="48" y2="218" stroke="#eaa448" stroke-width="0.85" />
<line x1="42" y1="224" x2="48" y2="224" stroke="#eaa448" stroke-width="0.85" />
<circle cx="45" cy="221" r="2.4" fill="#e08a14"/>
<circle cx="39" cy="222" r="2.4" fill="#e08a14"/>
<circle cx="39.4" cy="230" r="2.4" fill="#e08a14"/>
<line x1="45.4" y1="227.8" x2="45.4" y2="234.4" stroke="#eaa448" stroke-width="0.8" />
<line x1="42.4" y1="227.8" x2="48.4" y2="227.8" stroke="#eaa448" stroke-width="0.85" />
<line x1="42.4" y1="234.4" x2="48.4" y2="234.4" stroke="#eaa448" stroke-width="0.85" />
<circle cx="45.4" cy="231.1" r="2.4" fill="#e08a14"/>
<circle cx="48.1" cy="231.5" r="2.4" fill="#e08a14"/>
<circle cx="51.2" cy="234.5" r="2.4" fill="#e08a14"/>
<line x1="56.5" y1="236.3" x2="63.3" y2="236.3" stroke="#eaa448" stroke-width="0.8" />
<line x1="56.5" y1="234.4" x2="56.5" y2="238.2" stroke="#eaa448" stroke-width="0.85" />
<line x1="63.3" y1="234.4" x2="63.3" y2="238.2" stroke="#eaa448" stroke-width="0.85" />
<line x1="59.9" y1="232.4" x2="59.9" y2="240.2" stroke="#eaa448" stroke-width="0.8" />
<line x1="56.9" y1="232.4" x2="62.9" y2="232.4" stroke="#eaa448" stroke-width="0.85" />
<line x1="56.9" y1="240.2" x2="62.9" y2="240.2" stroke="#eaa448" stroke-width="0.85" />
<circle cx="59.9" cy="236.3" r="2.4" fill="#e08a14"/>
<line x1="59.6" y1="240.4" x2="59.6" y2="247.2" stroke="#eaa448" stroke-width="0.8" />
<line x1="56.6" y1="240.4" x2="62.6" y2="240.4" stroke="#eaa448" stroke-width="0.85" />
<line x1="56.6" y1="247.2" x2="62.6" y2="247.2" stroke="#eaa448" stroke-width="0.85" />
<rect x="57.4" y="241.6" width="4.4" height="4.4" fill="#e08a14"/>
<rect x="68.8" y="259" width="4.2" height="4.2" fill="#e08a14"/>
<line x1="72.7" y1="252.5" x2="78.9" y2="252.5" stroke="#eaa448" stroke-width="0.8" />
<line x1="72.7" y1="250.6" x2="72.7" y2="254.4" stroke="#eaa448" stroke-width="0.85" />
<line x1="78.9" y1="250.6" x2="78.9" y2="254.4" stroke="#eaa448" stroke-width="0.85" />
<circle cx="75.8" cy="252.5" r="1.6" fill="#e08a14"/>
<line x1="85.6" y1="259.1" x2="96.4" y2="259.1" stroke="#eaa448" stroke-width="0.8" />
<line x1="85.6" y1="256.7" x2="85.6" y2="261.5" stroke="#eaa448" stroke-width="0.85" />
<line x1="96.4" y1="256.7" x2="96.4" y2="261.5" stroke="#eaa448" stroke-width="0.85" />
<circle cx="91" cy="259.1" r="2.4" fill="#e08a14"/>
<line x1="101.5" y1="257.8" x2="106.5" y2="257.8" stroke="#eaa448" stroke-width="0.8" />
<line x1="101.5" y1="255.9" x2="101.5" y2="259.7" stroke="#eaa448" stroke-width="0.85" />
<line x1="106.5" y1="255.9" x2="106.5" y2="259.7" stroke="#eaa448" stroke-width="0.85" />
<rect x="101.4" y="255.2" width="5.2" height="5.2" fill="#e08a14"/>
<line x1="105" y1="257.5" x2="110" y2="257.5" stroke="#eaa448" stroke-width="0.8" />
<line x1="105" y1="255.6" x2="105" y2="259.4" stroke="#eaa448" stroke-width="0.85" />
<line x1="110" y1="255.6" x2="110" y2="259.4" stroke="#eaa448" stroke-width="0.85" />
<rect x="104.9" y="254.9" width="5.2" height="5.2" fill="#e08a14"/>
<line x1="75.4" y1="254.8" x2="83" y2="254.8" stroke="#aa1442" stroke-width="0.8" />
<line x1="75.4" y1="252.2" x2="75.4" y2="257.4" stroke="#aa1442" stroke-width="0.85" />
<line x1="83" y1="252.2" x2="83" y2="257.4" stroke="#aa1442" stroke-width="0.85" />
<circle cx="79.2" cy="254.8" r="2.4" fill="#a5002d"/>
<line x1="90" y1="246.4" x2="85.5" y2="250.2" stroke="#aa1442" stroke-width="0.9" />
<polygon points="83.4,252 86.8,247.9 87.9,251.2" fill="#aa1442"/>
<text x="90.55" y="246.39" font-size="7.36" fill="#aa1442" stroke="#aa1442" stroke-width="0.12" textLength="12.55" lengthAdjust="spacingAndGlyphs" transform="rotate(0.06 90.55 246.39)">147</text>
<line x1="176.7" y1="182.8" x2="176.7" y2="269.3" stroke="#111" stroke-width="1.2" />
<line x1="176.1" y1="268.7" x2="351" y2="268.7" stroke="#111" stroke-width="1.2" />
<line x1="173.4" y1="185.9" x2="176.7" y2="185.9" stroke="#111" stroke-width="0.9" />
<text x="159.66" y="188.35" font-size="7.5" fill="#1e1c1d" stroke="#1e1c1d" stroke-width="0.15" textLength="10.41" lengthAdjust="spacingAndGlyphs" transform="rotate(0.06 159.66 188.35)">1.5</text>
<line x1="173.4" y1="213.5" x2="176.7" y2="213.5" stroke="#111" stroke-width="0.9" />
<text x="159.66" y="215.95" font-size="7.39" fill="#1e1c1d" stroke="#1e1c1d" stroke-width="0.15" textLength="10.41" lengthAdjust="spacingAndGlyphs" transform="rotate(0.06 159.66 215.95)">1.0</text>
<line x1="173.4" y1="241.1" x2="176.7" y2="241.1" stroke="#111" stroke-width="0.9" />
<text x="159.93" y="243.55" font-size="7.39" fill="#1e1c1d" stroke="#1e1c1d" stroke-width="0.15" textLength="10.13" lengthAdjust="spacingAndGlyphs" transform="rotate(0.06 159.93 243.55)">0.5</text>
<line x1="173.4" y1="268.7" x2="176.7" y2="268.7" stroke="#111" stroke-width="0.9" />
<text x="159.93" y="271.15" font-size="7.39" fill="#1e1c1d" stroke="#1e1c1d" stroke-width="0.15" textLength="10.13" lengthAdjust="spacingAndGlyphs" transform="rotate(0.06 159.93 271.15)">0.0</text>
<line x1="190.4" y1="214.4" x2="190.4" y2="211.3" stroke="#1a1a1a" stroke-width="0.9" />
<line x1="187" y1="211.3" x2="193.8" y2="211.3" stroke="#1a1a1a" stroke-width="0.9" />
<rect x="183.6" y="214.4" width="13.6" height="54.3" fill="#c8c7cc" stroke="#151515" stroke-width="1"/>
<line x1="190.4" y1="268.7" x2="190.4" y2="271.6" stroke="#111" stroke-width="0.9" />
<line x1="211.38" y1="210.6" x2="211.38" y2="207.5" stroke="#1a1a1a" stroke-width="0.9" />
<line x1="207.98" y1="207.5" x2="214.78" y2="207.5" stroke="#1a1a1a" stroke-width="0.9" />
<rect x="204.58" y="210.6" width="13.6" height="58.1" fill="#2b4a7f" stroke="#151515" stroke-width="1"/>
<line x1="211.38" y1="268.7" x2="211.38" y2="271.6" stroke="#111" stroke-width="0.9" />
<line x1="232.36" y1="208" x2="232.36" y2="205.4" stroke="#1a1a1a" stroke-width="0.9" />
<line x1="228.96" y1="205.4" x2="235.76" y2="205.4" stroke="#1a1a1a" stroke-width="0.9" />
<rect x="225.56" y="208" width="13.6" height="60.7" fill="#2b4a7f" stroke="#151515" stroke-width="1"/>
<line x1="232.36" y1="268.7" x2="232.36" y2="271.6" stroke="#111" stroke-width="0.9" />
<line x1="253.34" y1="208.9" x2="253.34" y2="204.6" stroke="#1a1a1a" stroke-width="0.9" />
<line x1="249.94" y1="204.6" x2="256.74" y2="204.6" stroke="#1a1a1a" stroke-width="0.9" />
<rect x="246.54" y="208.9" width="13.6" height="59.8" fill="#2b4a7f" stroke="#151515" stroke-width="1"/>
<line x1="253.34" y1="268.7" x2="253.34" y2="271.6" stroke="#111" stroke-width="0.9" />
<line x1="274.32" y1="245.8" x2="274.32" y2="242.4" stroke="#1a1a1a" stroke-width="0.9" />
<line x1="270.92" y1="242.4" x2="277.72" y2="242.4" stroke="#1a1a1a" stroke-width="0.9" />
<rect x="267.52" y="245.8" width="13.6" height="22.9" fill="#a5002d" stroke="#151515" stroke-width="1"/>
<line x1="274.32" y1="268.7" x2="274.32" y2="271.6" stroke="#111" stroke-width="0.9" />
<line x1="295.3" y1="234.9" x2="295.3" y2="233.4" stroke="#1a1a1a" stroke-width="0.9" />
<line x1="291.9" y1="233.4" x2="298.7" y2="233.4" stroke="#1a1a1a" stroke-width="0.9" />
<rect x="288.5" y="234.9" width="13.6" height="33.8" fill="#9088c1" stroke="#151515" stroke-width="1"/>
<line x1="295.3" y1="268.7" x2="295.3" y2="271.6" stroke="#111" stroke-width="0.9" />
<line x1="316.28" y1="221.8" x2="316.28" y2="218.4" stroke="#1a1a1a" stroke-width="0.9" />
<line x1="312.88" y1="218.4" x2="319.68" y2="218.4" stroke="#1a1a1a" stroke-width="0.9" />
<rect x="309.48" y="221.8" width="13.6" height="46.9" fill="#9088c1" stroke="#151515" stroke-width="1"/>
<line x1="316.28" y1="268.7" x2="316.28" y2="271.6" stroke="#111" stroke-width="0.9" />
<line x1="337.26" y1="214.4" x2="337.26" y2="209.4" stroke="#1a1a1a" stroke-width="0.9" />
<line x1="333.86" y1="209.4" x2="340.66" y2="209.4" stroke="#1a1a1a" stroke-width="0.9" />
<rect x="330.46" y="214.4" width="13.6" height="54.3" fill="#9088c1" stroke="#151515" stroke-width="1"/>
<line x1="337.26" y1="268.7" x2="337.26" y2="271.6" stroke="#111" stroke-width="0.9" />
<line x1="274.3" y1="203.9" x2="337.1" y2="203.9" stroke="#707070" stroke-width="1.4" />
<text x="301.47" y="203.77" font-size="4.59" fill="#1e1c1d" font-weight="bold" stroke="#1e1c1d" stroke-width="0.3" textLength="7.04" lengthAdjust="spacingAndGlyphs" transform="rotate(0.06 301.47 203.77)">***</text>
<line x1="274.3" y1="212.7" x2="316.2" y2="212.7" stroke="#707070" stroke-width="1.4" />
<text x="290.97" y="212.57" font-size="4.59" fill="#1e1c1d" font-weight="bold" stroke="#1e1c1d" stroke-width="0.3" textLength="6.94" lengthAdjust="spacingAndGlyphs" transform="rotate(0.06 290.97 212.57)">***</text>
<line x1="274.3" y1="226.7" x2="295.3" y2="226.7" stroke="#707070" stroke-width="1.4" />
<text x="283.17" y="226.57" font-size="4.59" fill="#1e1c1d" font-weight="bold" stroke="#1e1c1d" stroke-width="0.3" textLength="7.25" lengthAdjust="spacingAndGlyphs" transform="rotate(0.06 283.17 226.57)">***</text>
<g transform="rotate(-90)"><text x="-249.93" y="153.45" font-size="9.8" fill="#1e1c1d" font-weight="bold" textLength="43.34" lengthAdjust="spacingAndGlyphs" transform="rotate(0.06 -249.93 153.45)">Secreted ALLC</text></g>
<text x="141.37" y="282.08" font-size="6.72" fill="#1e1c1d" stroke="#1e1c1d" stroke-width="0.12" textLength="36.04" lengthAdjust="spacingAndGlyphs" transform="rotate(0.06 141.37 282.08)">BME (μM)</text>
<text x="164.33" y="294.19" font-size="6.49" fill="#aa1442" stroke="#aa1442" stroke-width="0.12" textLength="12.98" lengthAdjust="spacingAndGlyphs" transform="rotate(0.06 164.33 294.19)">147</text>
<line x1="188.1" y1="280.1" x2="192.7" y2="280.1" stroke="#1e1c1d" stroke-width="0.95" />
<text x="206.76" y="282.22" font-size="6.97" fill="#2b4a7f" stroke="#2b4a7f" stroke-width="0.12" textLength="9.27" lengthAdjust="spacingAndGlyphs" transform="rotate(0.06 206.76 282.22)">55</text>
<text x="225.43" y="282.22" font-size="6.87" fill="#2b4a7f" stroke="#2b4a7f" stroke-width="0.12" textLength="13.55" lengthAdjust="spacingAndGlyphs" transform="rotate(0.06 225.43 282.22)">110</text>
<text x="246.44" y="282.22" font-size="6.87" fill="#2b4a7f" stroke="#2b4a7f" stroke-width="0.12" textLength="13.54" lengthAdjust="spacingAndGlyphs" transform="rotate(0.06 246.44 282.22)">165</text>
<line x1="272.02" y1="280.1" x2="276.62" y2="280.1" stroke="#aa1442" stroke-width="0.95" />
<text x="290.68" y="282.22" font-size="6.97" fill="#9088c1" stroke="#9088c1" stroke-width="0.12" textLength="9.27" lengthAdjust="spacingAndGlyphs" transform="rotate(0.06 290.68 282.22)">55</text>
<text x="309.35" y="282.22" font-size="6.87" fill="#9088c1" stroke="#9088c1" stroke-width="0.12" textLength="13.55" lengthAdjust="spacingAndGlyphs" transform="rotate(0.06 309.35 282.22)">110</text>
<text x="330.36" y="282.22" font-size="6.87" fill="#9088c1" stroke="#9088c1" stroke-width="0.12" textLength="13.54" lengthAdjust="spacingAndGlyphs" transform="rotate(0.06 330.36 282.22)">165</text>
<line x1="188.1" y1="291.8" x2="192.7" y2="291.8" stroke="#1e1c1d" stroke-width="0.95" />
<line x1="209.08" y1="291.8" x2="213.68" y2="291.8" stroke="#2b4a7f" stroke-width="0.95" />
<line x1="230.06" y1="291.8" x2="234.66" y2="291.8" stroke="#2b4a7f" stroke-width="0.95" />
<line x1="251.04" y1="291.8" x2="255.64" y2="291.8" stroke="#2b4a7f" stroke-width="0.95" />
<text x="271.68" y="295.39" font-size="8.94" fill="#aa1442" stroke="#aa1442" stroke-width="0.12" textLength="5.27" lengthAdjust="spacingAndGlyphs" transform="rotate(0.06 271.68 295.39)">+</text>
<text x="292.66" y="295.39" font-size="8.94" fill="#9088c1" stroke="#9088c1" stroke-width="0.12" textLength="5.27" lengthAdjust="spacingAndGlyphs" transform="rotate(0.06 292.66 295.39)">+</text>
<text x="313.64" y="295.39" font-size="8.94" fill="#9088c1" stroke="#9088c1" stroke-width="0.12" textLength="5.27" lengthAdjust="spacingAndGlyphs" transform="rotate(0.06 313.64 295.39)">+</text>
<text x="334.62" y="295.39" font-size="8.94" fill="#9088c1" stroke="#9088c1" stroke-width="0.12" textLength="5.27" lengthAdjust="spacingAndGlyphs" transform="rotate(0.06 334.62 295.39)">+</text>
<line x1="398.6" y1="182.4" x2="398.6" y2="269.5" stroke="#111" stroke-width="1.2" />
<line x1="398" y1="268.9" x2="513" y2="268.9" stroke="#111" stroke-width="1.2" />
<line x1="395.3" y1="185.65" x2="398.6" y2="185.65" stroke="#111" stroke-width="0.9" />
<text x="381.86" y="188.1" font-size="7.5" fill="#1e1c1d" stroke="#1e1c1d" stroke-width="0.15" textLength="10.41" lengthAdjust="spacingAndGlyphs" transform="rotate(0.06 381.86 188.1)">1.5</text>
<line x1="395.3" y1="213.4" x2="398.6" y2="213.4" stroke="#111" stroke-width="0.9" />
<text x="381.86" y="215.85" font-size="7.39" fill="#1e1c1d" stroke="#1e1c1d" stroke-width="0.15" textLength="10.41" lengthAdjust="spacingAndGlyphs" transform="rotate(0.06 381.86 215.85)">1.0</text>
<line x1="395.3" y1="241.15" x2="398.6" y2="241.15" stroke="#111" stroke-width="0.9" />
<text x="382.13" y="243.6" font-size="7.39" fill="#1e1c1d" stroke="#1e1c1d" stroke-width="0.15" textLength="10.13" lengthAdjust="spacingAndGlyphs" transform="rotate(0.06 382.13 243.6)">0.5</text>
<line x1="395.3" y1="268.9" x2="398.6" y2="268.9" stroke="#111" stroke-width="0.9" />
<text x="382.13" y="271.35" font-size="7.39" fill="#1e1c1d" stroke="#1e1c1d" stroke-width="0.15" textLength="10.13" lengthAdjust="spacingAndGlyphs" transform="rotate(0.06 382.13 271.35)">0.0</text>
<line x1="416.1" y1="214.3" x2="416.1" y2="211" stroke="#1a1a1a" stroke-width="0.9" />
<line x1="411.3" y1="211" x2="420.9" y2="211" stroke="#1a1a1a" stroke-width="0.9" />
<rect x="407.5" y="214.3" width="17.2" height="54.6" fill="#c8c7cc" stroke="#151515" stroke-width="1"/>
<line x1="416.1" y1="268.9" x2="416.1" y2="271.8" stroke="#111" stroke-width="0.9" />
<line x1="442.5" y1="239.7" x2="442.5" y2="237.6" stroke="#1a1a1a" stroke-width="0.9" />
<line x1="437.7" y1="237.6" x2="447.3" y2="237.6" stroke="#1a1a1a" stroke-width="0.9" />
<rect x="433.9" y="239.7" width="17.2" height="29.2" fill="#a5002d" stroke="#151515" stroke-width="1"/>
<line x1="442.5" y1="268.9" x2="442.5" y2="271.8" stroke="#111" stroke-width="0.9" />
<line x1="468.9" y1="215.2" x2="468.9" y2="211.8" stroke="#1a1a1a" stroke-width="0.9" />
<line x1="464.1" y1="211.8" x2="473.7" y2="211.8" stroke="#1a1a1a" stroke-width="0.9" />
<rect x="460.3" y="215.2" width="17.2" height="53.7" fill="#2b4a7f" stroke="#151515" stroke-width="1"/>
<line x1="468.9" y1="268.9" x2="468.9" y2="271.8" stroke="#111" stroke-width="0.9" />
<line x1="495.3" y1="217.8" x2="495.3" y2="214.4" stroke="#1a1a1a" stroke-width="0.9" />
<line x1="490.5" y1="214.4" x2="500.1" y2="214.4" stroke="#1a1a1a" stroke-width="0.9" />
<rect x="486.7" y="217.8" width="17.2" height="51.1" fill="#9088c1" stroke="#151515" stroke-width="1"/>
<line x1="495.3" y1="268.9" x2="495.3" y2="271.8" stroke="#111" stroke-width="0.9" />
<line x1="440" y1="207.1" x2="494.5" y2="207.1" stroke="#707070" stroke-width="1.4" />
<text x="462.07" y="206.36" font-size="4.86" fill="#1e1c1d" font-weight="bold" stroke="#1e1c1d" stroke-width="0.3" textLength="7.75" lengthAdjust="spacingAndGlyphs" transform="rotate(0.06 462.07 206.36)">***</text>
<g transform="rotate(-90)"><text x="-249.93" y="375.25" font-size="9.52" fill="#1e1c1d" font-weight="bold" textLength="43.34" lengthAdjust="spacingAndGlyphs" transform="rotate(0.06 -249.93 375.25)">Secreted ALLC</text></g>
<text x="410.07" y="282.12" font-size="7.18" fill="#1e1c1d" stroke="#1e1c1d" stroke-width="0.12" textLength="12.38" lengthAdjust="spacingAndGlyphs" transform="rotate(0.06 410.07 282.12)">Veh</text>
<text x="436.03" y="281.99" font-size="7.22" fill="#aa1442" stroke="#aa1442" stroke-width="0.12" textLength="12.87" lengthAdjust="spacingAndGlyphs" transform="rotate(0.06 436.03 281.99)">147</text>
<text x="462" y="282.11" font-size="7.54" fill="#2b4a7f" stroke="#2b4a7f" stroke-width="0.12" textLength="13.65" lengthAdjust="spacingAndGlyphs" transform="rotate(0.06 462 282.11)">Res</text>
<text x="488.5" y="281.99" font-size="7.22" fill="#9088c1" stroke="#9088c1" stroke-width="0.12" textLength="13.52" lengthAdjust="spacingAndGlyphs" transform="rotate(0.06 488.5 281.99)">147</text>
<text x="485.6" y="291.91" font-size="7.54" fill="#9088c1" stroke="#9088c1" stroke-width="0.12" textLength="19.29" lengthAdjust="spacingAndGlyphs" transform="rotate(0.06 485.6 291.91)">+Res</text>
</svg></body></html>
